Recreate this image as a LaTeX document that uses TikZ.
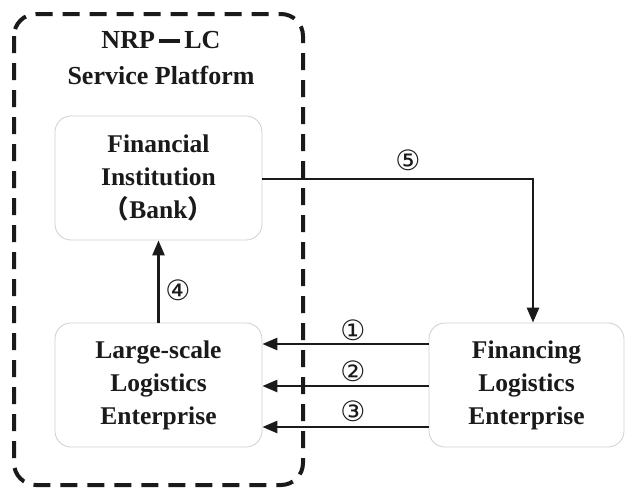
\documentclass[tikz,border=0pt]{standalone}
\usepackage{fontspec}
\setmainfont{Liberation Serif}
\newfontfamily\symfont{DejaVu Sans}
\newfontfamily\cjkfont{Noto Sans CJK SC}
\usetikzlibrary{arrows.meta}
\definecolor{ink}{HTML}{1A1A1A}
\definecolor{boxline}{HTML}{D0D0D0}
\tikzset{
  x=1pt, y=-1pt,
  entity/.style={draw=boxline, line width=0.8pt, rounded corners=16pt, fill=white,
    minimum width=207pt, minimum height=124pt, align=center, text=ink,
    font=\fontsize{25.5}{33}\selectfont\bfseries},
  platform/.style={draw=ink, line width=4pt, rounded corners=22pt, dash pattern=on 17pt off 10pt},
  flow/.style={draw=ink, line width=2.6pt, -{Triangle[length=15pt,width=12pt]}},
  num/.style={text=ink, font=\fontsize{28}{28}\selectfont\symfont, inner sep=0pt}
}
\begin{document}
\begin{tikzpicture}
\useasboundingbox (0,0) rectangle (625,490);
\fill[white] (0,0) rectangle (625,490);
\draw[platform] (14,14) rectangle (303,485);
\node[text=ink, font=\fontsize{26}{36}\selectfont\bfseries, align=center] (title) at (161,58)
  {NRP\,\rule[0.45ex]{0.8em}{0.14em}\,LC\\Service Platform};
\node[entity] (bank) at (158.5,178) {Financial\\Institution\\{\cjkfont（}Bank{\cjkfont）}};
\node[entity] (large) at (158.5,385) {Large-scale\\Logistics\\Enterprise};
\node[entity, minimum width=195pt] (fin) at (526.5,385) {Financing\\Logistics\\Enterprise};
\coordinate (turn) at (533,179);
\draw[flow] (bank.east |- turn) -- (turn) -- (turn |- fin.north);
\draw[flow] (large.north) -- (bank.south);
\draw[flow] (fin.west |- 0,344) -- (large.east |- 0,344);
\draw[flow] (fin.west |- 0,386) -- (large.east |- 0,386);
\draw[flow] (fin.west |- 0,427) -- (large.east |- 0,427);
\node[num] (n5) at (408,160) {⑤};
\node[num] (n4) at (178,290) {④};
\node[num] (n1) at (353,330) {①};
\node[num] (n2) at (353,371) {②};
\node[num] (n3) at (353,411) {③};
\end{tikzpicture}
\end{document}
